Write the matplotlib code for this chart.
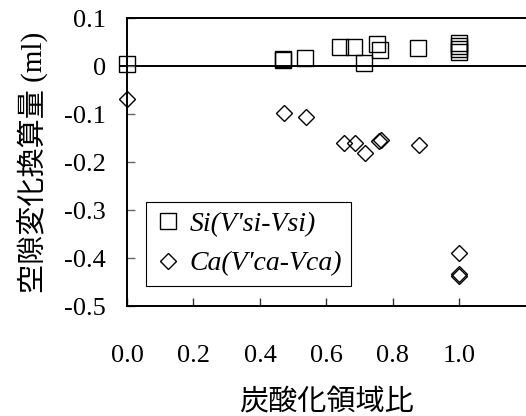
import matplotlib
matplotlib.use("Agg")
import matplotlib.pyplot as plt

# Si(V'si-Vsi) series
si_x = [0.0, 0.47, 0.47, 0.536, 0.64, 0.684, 0.712, 0.752, 0.76, 0.874, 1.0, 1.0, 1.0, 1.0]
si_y = [0.005, 0.012, 0.015, 0.017, 0.040, 0.040, 0.006, 0.045, 0.033, 0.037, 0.048, 0.042, 0.036, 0.030]

# Ca(V'ca-Vca) series
ca_x = [0.0, 0.471, 0.538, 0.652, 0.687, 0.715, 0.757, 0.764, 0.878, 1.0, 1.0, 1.0]
ca_y = [-0.068, -0.0975, -0.106, -0.160, -0.160, -0.181, -0.157, -0.155, -0.165, -0.389, -0.433, -0.437]

xticks = [0.0, 0.2, 0.4, 0.6, 0.8, 1.0]
xtick_labels = ["0.0", "0.2", "0.4", "0.6", "0.8", "1.0"]
yticks = [0.1, 0.0, -0.1, -0.2, -0.3, -0.4, -0.5]
ytick_labels = ["0.1", "0", "-0.1", "-0.2", "-0.3", "-0.4", "-0.5"]

serif = ["Liberation Serif", "DejaVu Serif"]
cjk = ["Liberation Serif", "Noto Sans CJK JP"]

fig = plt.figure(figsize=(5.26, 4.16), dpi=100)
ax = fig.add_axes([0.2414, 0.2644, 0.7586, 0.6923])

ax.plot([-0.02, 1.2], [0, 0], color="black", lw=1.4, clip_on=False, zorder=1)

ax.plot(si_x, si_y, linestyle="none", marker="s", markersize=11.5, fillstyle="none",
        markeredgecolor="black", markeredgewidth=1.0, label="Si(V'si-Vsi)",
        clip_on=False, zorder=3)
ax.plot(ca_x, ca_y, linestyle="none", marker="D", markersize=7.8, fillstyle="none",
        markeredgecolor="black", markeredgewidth=1.0, label="Ca(V'ca-Vca)",
        clip_on=False, zorder=3)

ax.set_xlim(0, 1.2)
ax.set_ylim(-0.5, 0.1)
ax.set_xticks(xticks)
ax.set_xticklabels(xtick_labels, family=serif, fontsize=19)
ax.set_yticks(yticks)
ax.set_yticklabels(ytick_labels, family=serif, fontsize=19)
ax.tick_params(axis="x", direction="in", length=6, width=1, color="#333333", pad=28)
ax.tick_params(axis="y", direction="in", length=6, width=1, color="#666666", pad=15)

for s in ["left", "top", "bottom"]:
    ax.spines[s].set_linewidth(1.4)
ax.spines["right"].set_visible(False)

ax.set_ylabel("空隙変化換算量 (ml)", family=cjk, fontsize=21)
ax.yaxis.set_label_coords(-0.195, 0.5)
ax.set_xlabel("炭酸化領域比", family=cjk, fontsize=21)
ax.xaxis.set_label_coords(0.5, -0.29)

leg = ax.legend(loc="upper left", bbox_to_anchor=(0.048, 0.361), borderaxespad=0,
                prop={"family": serif, "style": "italic", "size": 20},
                handlelength=0.9, handletextpad=0.3, labelspacing=0.5,
                borderpad=0.35, fancybox=False, framealpha=1)
leg.get_frame().set_edgecolor("black")
leg.get_frame().set_linewidth(0.8)

fig.savefig("out.png", dpi=100)
